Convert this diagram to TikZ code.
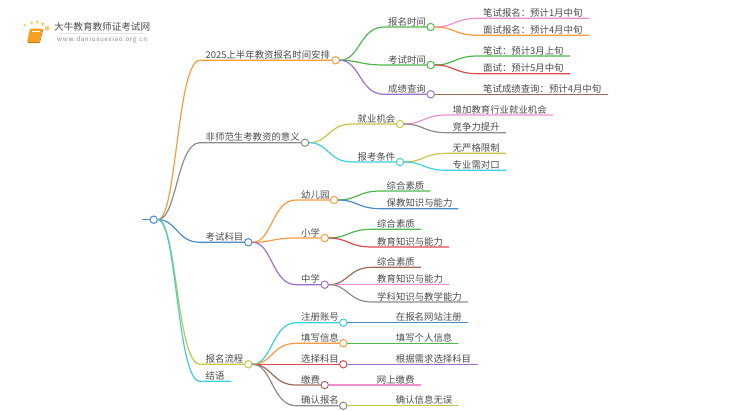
\documentclass[tikz,border=0pt]{standalone}
\usepackage{fontspec}
\setmainfont{Noto Sans CJK SC}
\usetikzlibrary{calc}
\definecolor{cOr}{HTML}{FF9A3C}
\definecolor{cGy}{HTML}{8C8C8C}
\definecolor{cBl}{HTML}{4A8CC4}
\definecolor{cOl}{HTML}{C8C44A}
\definecolor{cCy}{HTML}{3CCFE0}
\definecolor{cGr}{HTML}{4CB84C}
\definecolor{cPu}{HTML}{A070D0}
\definecolor{cPk}{HTML}{F08FD0}
\definecolor{cRd}{HTML}{E04A4A}
\definecolor{cBr}{HTML}{A0695A}
\definecolor{cTx}{HTML}{4C4C4C}
\definecolor{cBook}{HTML}{F5A01E}
\tikzset{
  wire/.style={line width=1.2pt,line cap=round},
  dot/.style={circle,fill=white,line width=1pt,minimum size=7.4pt,inner sep=0pt},
  lab/.style={anchor=base west,inner sep=0pt,yshift=-0.5pt,text=cTx,font=\fontsize{9.4pt}{10pt}\selectfont},
  curvy/.style={to path={let \p1=(\tikztostart), \p2=(\tikztotarget) in
     .. controls ({0.5*\x1+0.5*\x2},\y1) and ({0.5*\x1+0.5*\x2},\y2) .. (\tikztotarget)}}
}
% colour, parent, name, elbow x, circle x, y, label x, label
\newcommand{\bough}[8]{%
  \node[dot,draw=#1] (#3) at (#5,#6) {};
  \coordinate (#3e) at (#4,#6);
  \draw[wire,#1] (#2) to[curvy] (#3e) -- (#3);
  \node[lab] (#3t) at (#7,#6-2.4) {#8};
}
% colour, parent, name, elbow x, end x, y, label x, label
\newcommand{\leaf}[8]{%
  \coordinate (#3e) at (#4,#6);
  \coordinate (#3f) at (#5,#6);
  \draw[wire,#1] (#2) to[curvy] (#3e) -- (#3f);
  \node[lab] (#3t) at (#7,#6-2.4) {#8};
}
\begin{document}
\begin{tikzpicture}[x=1pt,y=-1pt]
\useasboundingbox (0,0) rectangle (750,410);
\fill[white] (0,0) rectangle (750,410);
% logo
\foreach \x/\y/\r/\c in {25/25/1.5/FFD27A,31.7/22.7/1.7/FFD27A,37.3/22/1.8/FFCF70,42.7/24/1.9/FFCB60,47.3/28.3/2.2/FFC850,22.7/30/1.2/FFE3A8,21.7/36/1.1/FFE9BE,22.7/41.7/1/FFEFD0}{
  \definecolor{tmpc}{HTML}{\c}
  \fill[tmpc] (\x,\y) circle (\r);
}
\fill[cBook,rounded corners=1pt] (30,28.5) -- (42.5,28.5) -- (39,42) -- (27,42) -- cycle;
\draw[white,line width=0.5pt] (32,31.5) -- (40,31.5);
\draw[cBook!80!black,line width=0.8pt] (28,42.6) -- (39.5,42.6) -- (43,29);
\node[anchor=base west,inner sep=0pt,text=cTx,font=\fontsize{9.6pt}{11pt}\selectfont] (logot) at (54,30.5) {大牛教育教师证考试网};
\draw[black!10,line width=0.6pt] (60,33.5) -- (145,33.5);
\node[anchor=base west,inner sep=0pt,text=black!45,font=\fontsize{6.3pt}{7pt}\selectfont] (logou) at (57,41.2) {\addfontfeatures{LetterSpace=10}www.daniuxuexiao.org.cn};
% root
\coordinate (stub) at (143,219.7);
\node[dot,draw=cBl] (root) at (153.7,219.7) {};
\draw[wire,cBl] (stub) -- (root);
% main branches
\bough{cOr}{root}{a}{200}{335.7}{60.3}{205.5}{2025上半年教资报名时间安排}
\bough{cGy}{root}{b}{200}{305}{142.7}{205.5}{非师范生考教资的意义}
\bough{cBl}{root}{c}{200}{248.3}{242.3}{205.5}{考试科目}
\bough{cOl}{root}{d}{200}{248.3}{364.3}{205.5}{报名流程}
\coordinate (ee) at (200,381.3);
\coordinate (ef) at (230.7,381.3);
\draw[wire,cCy] (root) to[curvy] (ee) -- (ef);
\node[lab] (et) at (205.5,378.9) {结语};
% a
\bough{cGr}{a}{a1}{384}{430.7}{27}{388}{报名时间}
\bough{cGr}{a}{a2}{384}{430.7}{65}{388}{考试时间}
\bough{cPu}{a}{a3}{384}{430.7}{94.3}{388}{成绩查询}
\leaf{cPk}{a1}{a11}{478}{588.7}{18.3}{483}{笔试报名：预计1月中旬}
\leaf{cOr}{a1}{a12}{478}{588.7}{35.3}{483}{面试报名：预计4月中旬}
\leaf{cGr}{a2}{a21}{478}{569.7}{56}{483}{笔试：预计3月上旬}
\leaf{cRd}{a2}{a22}{478}{569.7}{73.7}{483}{面试：预计5月中旬}
\coordinate (a31f) at (607.7,94.3);
\draw[wire,cBr] (a3) -- (a31f);
\node[lab] (a31t) at (483,91.9) {笔试成绩查询：预计4月中旬};
% b
\bough{cOl}{b}{b1}{352}{400}{124}{357.5}{就业机会}
\bough{cCy}{b}{b2}{352}{400}{162}{357.5}{报考条件}
\leaf{cPk}{b1}{b11}{447}{552.7}{115}{452.5}{增加教育行业就业机会}
\leaf{cGy}{b1}{b12}{447}{505.7}{132.7}{452.5}{竞争力提升}
\leaf{cOl}{b2}{b21}{447}{505.7}{153.3}{452.5}{无严格限制}
\leaf{cCy}{b2}{b22}{447}{505.7}{170.3}{452.5}{专业需对口}
% c
\bough{cOr}{c}{c1}{296}{334}{200}{301}{幼儿园}
\bough{cOr}{c}{c2}{296}{324.7}{238}{301}{小学}
\bough{cPu}{c}{c3}{296}{324.7}{284.7}{301}{中学}
\leaf{cGr}{c1}{c11}{381}{430}{191}{386.5}{综合素质}
\leaf{cBl}{c1}{c12}{381}{458}{208.7}{386.5}{保教知识与能力}
\leaf{cGr}{c2}{c21}{372}{420.7}{229.3}{377}{综合素质}
\leaf{cRd}{c2}{c22}{372}{448.7}{247}{377}{教育知识与能力}
\leaf{cBr}{c3}{c31}{372}{420.7}{267.3}{377}{综合素质}
\coordinate (c32f) at (448.7,284.7);
\draw[wire,cPk] (c3) -- (c32f);
\node[lab] (c32t) at (377,282.3) {教育知识与能力};
\leaf{cGy}{c3}{c33}{372}{467.7}{302}{377}{学科知识与教学能力}
% d
\bough{cCy}{d}{d1}{296}{343.3}{322.7}{301}{注册账号}
\bough{cOr}{d}{d2}{296}{343.3}{343.3}{301}{填写信息}
\node[dot,draw=cRd] (d3) at (343.3,364.3) {};
\draw[wire,cRd] (d) -- (d3);
\node[lab] (d3t) at (301,361.9) {选择科目};
\bough{cBr}{d}{d4}{296}{324.7}{385}{301}{缴费}
\bough{cGy}{d}{d5}{296}{343.3}{405.7}{301}{确认报名}
\coordinate (d11f) at (467.7,322.7);
\draw[wire,cBl] (d1) -- (d11f);
\node[lab] (d11t) at (395.7,320.3) {在报名网站注册};
\coordinate (d21f) at (458,343.3);
\draw[wire,cGr] (d2) -- (d21f);
\node[lab] (d21t) at (395.7,340.9) {填写个人信息};
\coordinate (d31f) at (477.3,364.3);
\draw[wire,cPu] (d3) -- (d31f);
\node[lab] (d31t) at (395.7,361.9) {根据需求选择科目};
\coordinate (d41f) at (420.7,385);
\draw[wire,cPk] (d4) -- (d41f);
\node[lab] (d41t) at (376.7,382.6) {网上缴费};
\coordinate (d51f) at (458,405.7);
\draw[wire,cOl] (d5) -- (d51f);
\node[lab] (d51t) at (395.7,403.3) {确认信息无误};
\end{tikzpicture}
\end{document}
